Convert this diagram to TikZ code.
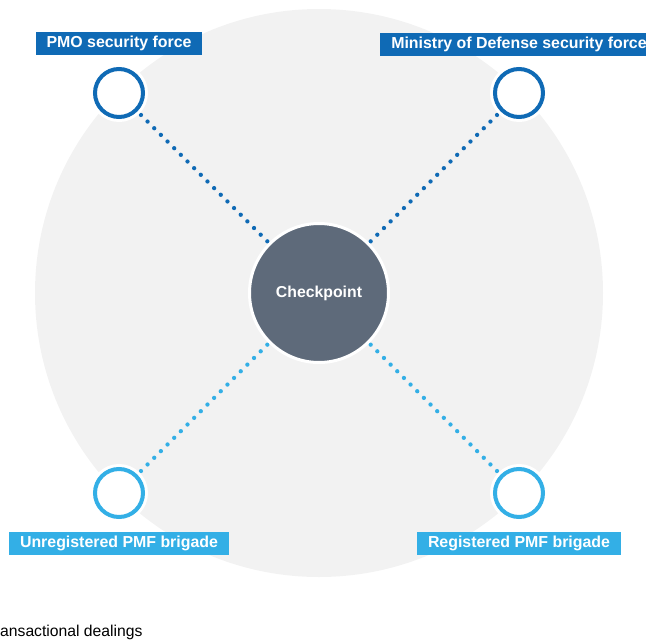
\documentclass[tikz,border=0pt]{standalone}
\usepackage{fontspec}
\setmainfont{Liberation Sans}
\usetikzlibrary{backgrounds}
\definecolor{dblue}{HTML}{0F6AB5}
\definecolor{lblue}{HTML}{33AFE6}
\definecolor{bggray}{HTML}{F2F2F2}
\definecolor{cpgray}{HTML}{5E6A7A}
\begin{document}
\begin{tikzpicture}[x=1pt,y=-1pt,
  actor/.style={circle, draw=#1, line width=4pt, fill=white, minimum size=48pt, inner sep=0pt,
    preaction={draw=white, line width=10pt}},
  hub/.style={circle, draw=white, line width=3pt, fill=cpgray, minimum size=139pt, inner sep=0pt,
    text=white, font=\bfseries\fontsize{15.8}{18}\selectfont},
  tag/.style={fill=#1, text=white, font=\bfseries\fontsize{15.9}{18}\selectfont,
    inner xsep=11pt, inner ysep=0pt, minimum height=23pt},
  link/.style={draw=#1, line width=4.3pt, line cap=round, dash pattern=on 0pt off 9.41pt,
    shorten <=5pt, shorten >=2pt},
  note/.style={font=\fontsize{15.7}{18}\selectfont, text=black, inner sep=0pt}]
\useasboundingbox (0,0) rectangle (646,640);

\node[hub] (cp) at (319,293) {Checkpoint};
\node[actor=dblue] (pmo) at (119,93) {};
\node[actor=dblue] (mod) at (519,93) {};
\node[actor=lblue] (unreg) at (119,493) {};
\node[actor=lblue] (reg) at (519,493) {};

\node[tag=dblue] (pmol) at (119,43.5) {PMO security force};
\node[tag=dblue] (modl) at (519,44) {Ministry of Defense security force};
\node[tag=lblue] (unregl) at (119,543) {Unregistered PMF brigade};
\node[tag=lblue] (regl) at (519,543.5) {Registered PMF brigade};

\node[note, anchor=base west] (legend) at (0,636) {ansactional dealings};

\begin{pgfonlayer}{background}
  \fill[bggray] (319,293) circle (284pt);
  \draw[link=dblue] (pmo) -- (cp);
  \draw[link=dblue] (mod) -- (cp);
  \draw[link=lblue] (unreg) -- (cp);
  \draw[link=lblue] (reg) -- (cp);
\end{pgfonlayer}
\end{tikzpicture}
\end{document}
